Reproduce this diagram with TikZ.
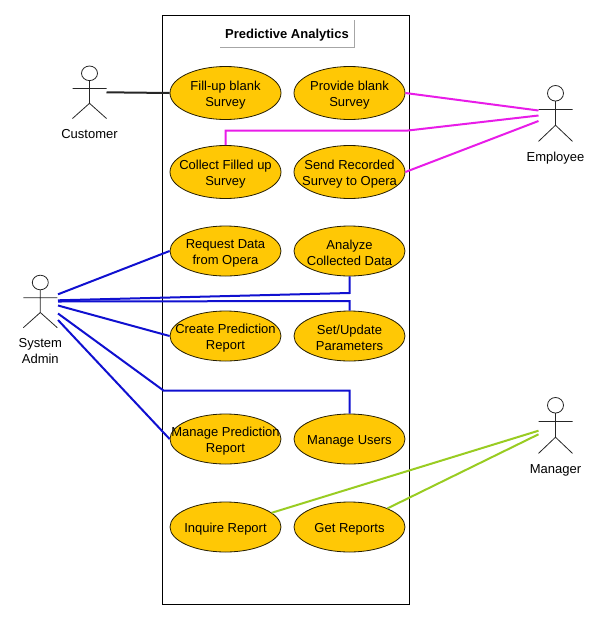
\documentclass[tikz,border=0pt]{standalone}
\usepackage{fontspec}
\setmainfont{Liberation Sans}
\usetikzlibrary{shapes.geometric,positioning}
\definecolor{usecase}{RGB}{255,200,5}
\definecolor{empline}{RGB}{232,28,232}
\definecolor{adminline}{RGB}{16,16,208}
\definecolor{mgrline}{RGB}{153,204,34}
\tikzset{
    oval/.style={ellipse,draw=black!85!usecase,fill=usecase,line width=0.6pt,inner sep=0pt,
        minimum width=83.25pt,minimum height=#1},
    oval/.default=37.5pt,
    stick/.style={draw=black!85,line width=0.6pt},
    caption/.style={align=center,inner sep=0pt},
    link/.style={line width=1.5pt,line join=miter}
}
% name, centre, height, text (the text may stick out of the oval)
\newcommand{\usecase}[4]{
    \node[oval=#3] (#1) at (#2) {};
    \node[caption,yshift=-1.5pt] (#1 text) at (#2) {#4};
}
% name, centre, stretch, text under the figure
\newcommand{\drawactor}[4]{
    \node[minimum width=25.5pt,minimum height=#3*39.4pt,inner sep=0pt,outer sep=0pt] (#1) at (#2) {};
    \draw[stick,shift={(#2)},yscale=#3] (0,-19) circle (8 and 7.3);
    \draw[stick,shift={(#2)},yscale=#3] (0,-11.7)--(0,11) (-17,-3.8)--(17,-3.8) (-17,26.2)--(0,11)--(17,26.2);
    \node[caption,below=8pt of #1] (#1 label) {#4};
}
\begin{document}
\begin{tikzpicture}[x=0.75pt,y=-0.75pt,font=\fontsize{9.75}{12}\selectfont]
\useasboundingbox (0,0) rectangle (602,619);
\draw[line width=0.75pt] (162.7,15) rectangle (409.3,604);
\node[inner sep=0pt,font=\fontsize{9.75}{12}\selectfont\bfseries] (title) at (287,35) {Predictive Analytics};
\draw[black!35,line width=0.6pt] (220,47.5)--(354.5,47.5)--(354.5,19.5);

\usecase{fillup}{225.5,93}{39.75pt}{Fill-up blank\\Survey}
\usecase{provide}{349.5,93}{39.75pt}{Provide blank\\Survey}
\usecase{collect}{225.5,172}{39.75pt}{Collect Filled up\\Survey}
\usecase{send}{349.5,172}{39.75pt}{Send Recorded\\Survey to Opera}
\usecase{request}{225.5,251}{37.5pt}{Request Data\\from Opera}
\usecase{analyze}{349.5,251}{37.5pt}{Analyze\\Collected Data}
\usecase{create}{225.5,336}{37.5pt}{Create Prediction\\Report}
\usecase{params}{349.5,336}{37.5pt}{Set/Update\\Parameters}
\usecase{managerep}{225.5,439}{37.5pt}{Manage Prediction\\Report}
\usecase{users}{349.5,439}{37.5pt}{Manage Users}
\usecase{inquire}{225.5,527}{37.5pt}{Inquire Report}
\usecase{getrep}{349.5,527}{37.5pt}{Get Reports}

\drawactor{customer}{89.5,92.3}{1}{Customer}
\drawactor{employee}{555.5,113.5}{1.065}{Employee}
\drawactor{sysadmin}{40.3,301.5}{1}{System\\Admin}
\drawactor{manager}{555.5,425.5}{1.065}{Manager}

% free ends at the figures
\coordinate (emp1) at (538.5,110.5);
\coordinate (emp2) at (538.5,115.5);
\coordinate (emp3) at (538.5,121);
\coordinate (sys1) at (58,294.3);
\coordinate (sys2) at (58,300.3);
\coordinate (sys3) at (58,301.5);
\coordinate (sys4) at (58,305.5);
\coordinate (sys5) at (58,313.5);
\coordinate (sys6) at (58,320);
\coordinate (mgr1) at (538.5,430.7);
\coordinate (mgr2) at (538.5,434.3);

\draw[link,black!85] (customer.east)--(fillup.west);
\begin{scope}[empline]
\draw[link] (provide.east)--(emp1);
\draw[link] (collect.north)--(225.5,130.5)--(408,130.5)--(emp2);
\draw[link] (send.east)--(emp3);
\end{scope}
\begin{scope}[adminline]
\draw[link] (sys1)--(request.west);
\draw[link] (sys2)--(349.5,293)--(analyze.south);
\draw[link] (sys3)--(349.5,301)--(params.north);
\draw[link] (sys4)--(create.west);
\draw[link] (sys5)--(163.5,390.5)--(349.5,390.5)--(users.north);
\draw[link] (sys6)--(managerep.west);
\end{scope}
\draw[link,mgrline] (mgr1)--(inquire);
\draw[link,mgrline] (mgr2)--(getrep);
\end{tikzpicture}
\end{document}
